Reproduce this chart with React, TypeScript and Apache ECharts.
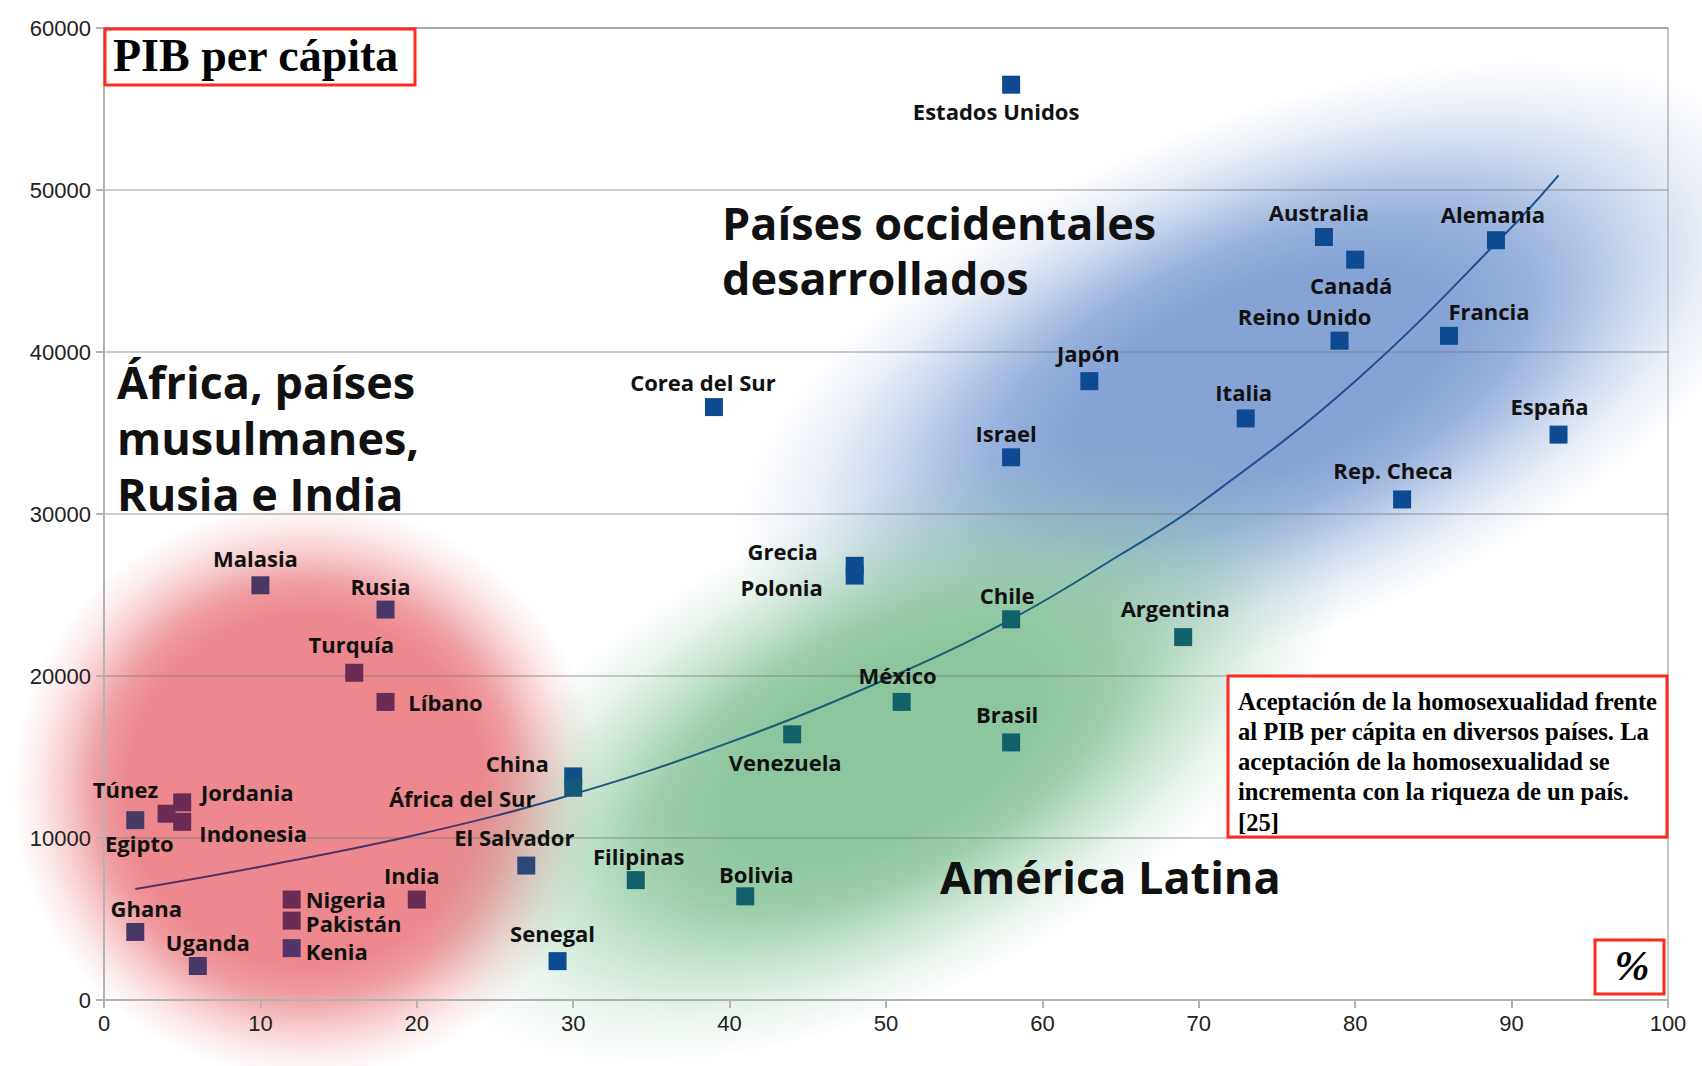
import React, { useEffect, useRef } from "react";
import * as echarts from "echarts";

// ---- data ----
const countries = [
  "Estados Unidos", "Australia", "Canadá", "Alemania", "Reino Unido", "Francia",
  "Japón", "Italia", "España", "Israel", "Rep. Checa", "Corea del Sur",
  "Grecia", "Polonia", "Chile", "Argentina", "México", "Brasil", "Venezuela",
  "Filipinas", "Bolivia", "China", "África del Sur", "El Salvador", "Senegal",
  "Malasia", "Rusia", "Turquía", "Líbano", "Egipto", "Túnez", "Jordania",
  "Indonesia", "Ghana", "Uganda", "Nigeria", "Pakistán", "Kenia", "India",
];
const acceptance = [
  58, 78, 80, 89, 79, 86,
  63, 73, 93, 58, 83, 39,
  48, 48, 58, 69, 51, 58, 44,
  34, 41, 30, 30, 27, 29,
  10, 18, 16, 18, 2, 4, 5,
  5, 2, 6, 12, 12, 12, 20,
];
const gdpPerCapita = [
  56500, 47100, 45700, 46900, 40700, 41000,
  38200, 35900, 34900, 33500, 30900, 36600,
  26800, 26200, 23500, 22400, 18400, 15900, 16400,
  7400, 6400, 13800, 13100, 8300, 2400,
  25600, 24100, 20200, 18400, 11100, 11500, 12200,
  11000, 4200, 2100, 6200, 4900, 3200, 6200,
];
const tone = [
  "occ", "occ", "occ", "occ", "occ", "occ",
  "occ", "occ", "occ", "occ", "occ", "occ",
  "occ", "occ", "lat", "lat", "lat", "lat", "lat",
  "lat", "lat", "china", "sa", "salv", "occ",
  "edge", "edge", "af", "af", "edge", "af", "af",
  "af", "edge", "edge", "af", "af", "kenia", "af",
];
// trend line
const trendX = [2, 10, 20, 30, 40, 50, 58, 65, 70, 80, 90, 93];
const trendY = [6850, 8230, 10200, 12700, 15900, 19800, 23500, 27500, 30600, 38200, 47700, 50900];

const xTicks = { min: 0, max: 100, step: 10 };
const yTicks = { min: 0, max: 60000, step: 10000 };

const captionLines = [
  "Aceptación de la homosexualidad frente",
  "al PIB per cápita en diversos países. La",
  "aceptación de la homosexualidad se",
  "incrementa con la riqueza de un país.",
  "[25]",
];

// ---- styles ----
const toneColors: Record<string, string> = {
  occ: "#0d4a92",
  lat: "#12606a",
  af: "#6a2c52",
  edge: "#473866",
  china: "#0f4f86",
  sa: "#135878",
  salv: "#2b4878",
  kenia: "#533466",
};
const labelOffsets: Record<string, [number, number]> = {
  "Estados Unidos": [-15, 26],
  Australia: [-5, -25],
  "Canadá": [-4, 25],
  Alemania: [-3, -26],
  "Reino Unido": [-35, -25],
  Francia: [40, -25],
  "Japón": [-1, -28],
  Italia: [-2, -26],
  "España": [-9, -29],
  Israel: [-5, -24],
  "Rep. Checa": [-9, -29],
  "Corea del Sur": [-11, -25],
  Grecia: [-72, -15],
  Polonia: [-73, 11],
  Chile: [-4, -24],
  Argentina: [-8, -29],
  "México": [-4, -27],
  Brasil: [-4, -28],
  Venezuela: [-7, 28],
  Filipinas: [3, -24],
  Bolivia: [11, -22],
  China: [-56, -13],
  "África del Sur": [-111, 10],
  "El Salvador": [-12, -29],
  Senegal: [-5, -28],
  Malasia: [-5, -27],
  Rusia: [-5, -24],
  "Turquía": [-3, -29],
  "Líbano": [60, 0],
  Egipto: [4, 23],
  "Túnez": [-41, -25],
  Jordania: [65, -10],
  Indonesia: [71, 11],
  Ghana: [11, -24],
  Uganda: [10, -24],
  Nigeria: [54, -1],
  "Pakistán": [62, 2],
  Kenia: [45, 3],
  India: [-5, -25],
};

const SANS = "'Open Sans', 'Noto Sans', sans-serif";
const SERIF = "'Liberation Serif', 'DejaVu Serif', serif";

function blob(cx: number, cy: number, rx: number, ry: number, rotDeg: number, rgb: string, inner: number) {
  const span = 1 - inner;
  return {
    type: "ellipse",
    silent: true,
    z: -5,
    x: cx,
    y: cy,
    rotation: (rotDeg * Math.PI) / 180,
    shape: { cx: 0, cy: 0, rx, ry },
    style: {
      fill: new echarts.graphic.RadialGradient(0.5, 0.5, 0.5, [
        { offset: 0, color: `rgba(${rgb},1)` },
        { offset: inner, color: `rgba(${rgb},1)` },
        { offset: inner + span * 0.25, color: `rgba(${rgb},0.85)` },
        { offset: inner + span * 0.5, color: `rgba(${rgb},0.5)` },
        { offset: inner + span * 0.75, color: `rgba(${rgb},0.18)` },
        { offset: 1, color: `rgba(${rgb},0)` },
      ]),
    },
  };
}

export default function App() {
  const ref = useRef<HTMLDivElement>(null);
  useEffect(() => {
    if (!ref.current) return;
    const chart = echarts.init(ref.current, undefined, { renderer: "svg" });

    const scatterData = countries.map((name, i) => ({
      name,
      value: [acceptance[i], gdpPerCapita[i]],
      itemStyle: { color: toneColors[tone[i]], opacity: 1 },
      label: { offset: labelOffsets[name] || [0, -25] },
    }));
    const trendData = trendX.map((x, i) => [x, trendY[i]]);

    const axisGray = "#b3b3b3";
    const tickFont = "'Liberation Sans', Arial, sans-serif";
    const option: any = {
      animation: false,
      backgroundColor: "#ffffff",
      grid: {
        left: 104, right: 34, top: 28, bottom: 66,
        show: true, borderColor: axisGray, borderWidth: 1.5,
      },
      xAxis: {
        type: "value",
        min: xTicks.min, max: xTicks.max, interval: xTicks.step,
        axisLine: { show: true, lineStyle: { color: axisGray, width: 2 } },
        axisTick: { show: true, length: 8, lineStyle: { color: axisGray, width: 2 } },
        axisLabel: { fontFamily: tickFont, fontSize: 22, color: "#222", margin: 12, formatter: (v: number) => String(v) },
        splitLine: { show: false },
      },
      yAxis: {
        type: "value",
        min: yTicks.min, max: yTicks.max, interval: yTicks.step,
        axisLine: { show: true, lineStyle: { color: axisGray, width: 2 } },
        axisTick: { show: true, length: 8, lineStyle: { color: axisGray, width: 2 } },
        axisLabel: { fontFamily: tickFont, fontSize: 22, color: "#222", margin: 13, formatter: (v: number) => String(v) },
        splitLine: { show: true, lineStyle: { color: "rgba(120,120,120,0.5)", width: 1.5 } },
      },
      series: [
        {
          type: "line",
          data: trendData,
          smooth: 0.4,
          showSymbol: false,
          silent: true,
          z: 2,
          lineStyle: {
            width: 2,
            color: new echarts.graphic.LinearGradient(0, 0, 1, 0, [
              { offset: 0, color: "#5b2c5e" },
              { offset: 0.22, color: "#4c3266" },
              { offset: 0.3, color: "#1e527a" },
              { offset: 0.45, color: "#156070" },
              { offset: 0.66, color: "#155e74" },
              { offset: 0.76, color: "#1a4f96" },
              { offset: 1, color: "#1a4f96" },
            ]),
          },
        },
        {
          type: "scatter",
          data: scatterData,
          symbol: "rect",
          symbolSize: 18,
          z: 3,
          label: {
            show: true,
            position: "inside",
            formatter: "{b}",
            fontFamily: SANS,
            fontWeight: "bold",
            fontSize: 22,
            lineHeight: 20,
            color: "#111",
          },
        },
      ],
      graphic: [
        blob(1262, 378, 560, 260, 22, "134,163,214", 0.35),
        blob(306, 790, 295, 290, 0, "236,136,142", 0.6),
        blob(884, 752, 500, 245, 27, "140,198,158", 0.34),
        // region titles
        { type: "text", z: 5, silent: true, style: { x: 117, y: 381, text: "África, países", font: `bold 45px ${SANS}`, fill: "#111", textVerticalAlign: "middle" } },
        { type: "text", z: 5, silent: true, style: { x: 117, y: 437, text: "musulmanes,", font: `bold 45px ${SANS}`, fill: "#111", textVerticalAlign: "middle" } },
        { type: "text", z: 5, silent: true, style: { x: 117, y: 493, text: "Rusia e India", font: `bold 45px ${SANS}`, fill: "#111", textVerticalAlign: "middle" } },
        { type: "text", z: 5, silent: true, style: { x: 722, y: 222, text: "Países occidentales", font: `bold 45px ${SANS}`, fill: "#111", textVerticalAlign: "middle" } },
        { type: "text", z: 5, silent: true, style: { x: 722, y: 277, text: "desarrollados", font: `bold 45px ${SANS}`, fill: "#111", textVerticalAlign: "middle" } },
        { type: "text", z: 5, silent: true, style: { x: 940, y: 876, text: "América Latina", font: `bold 45px ${SANS}`, fill: "#111", textVerticalAlign: "middle" } },
        // PIB per cápita box
        { type: "rect", z: 10, silent: true, shape: { x: 105, y: 29, width: 310, height: 56 }, style: { fill: "#fff", stroke: "#ff2a1f", lineWidth: 3 } },
        { type: "text", z: 11, silent: true, style: { x: 113, y: 55, text: "PIB per cápita", font: `bold 46px ${SERIF}`, fill: "#000", textVerticalAlign: "middle" } },
        // caption box
        { type: "rect", z: 10, silent: true, shape: { x: 1228, y: 676, width: 439, height: 161 }, style: { fill: "#fff", stroke: "#ff2a1f", lineWidth: 3 } },
        ...captionLines.map((t, i) => ({
          type: "text", z: 11, silent: true,
          style: { x: 1238, y: 701 + i * 30.3, text: t, font: `bold 24.6px ${SERIF}`, fill: "#000", textVerticalAlign: "middle" },
        })),
        // % box
        { type: "rect", z: 10, silent: true, shape: { x: 1595, y: 940, width: 69, height: 54 }, style: { fill: "#fff", stroke: "#ff2a1f", lineWidth: 3 } },
        { type: "text", z: 11, silent: true, style: { x: 1632, y: 966, text: "%", font: `italic bold 42px ${SERIF}`, fill: "#000", textAlign: "center", textVerticalAlign: "middle" } },
      ],
    };
    chart.setOption(option);
    return () => chart.dispose();
  }, []);
  return (
    <div
      ref={ref}
      style={{ position: "fixed", left: 0, top: 0, width: 1702, height: 1066 }}
    />
  );
}
